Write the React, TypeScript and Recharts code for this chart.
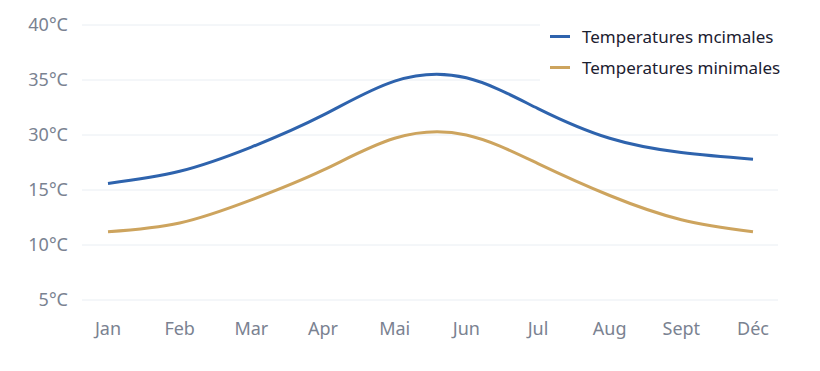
import { CartesianGrid, Legend, Line, LineChart, XAxis, YAxis } from "recharts"

const months = ["Jan", "Feb", "Mar", "Apr", "Mai", "Jun", "Jul", "Aug", "Sept", "Déc"]
const maxTemps = [15.6, 16.7, 18.9, 21.8, 24.9, 25.2, 22.4, 19.7, 18.4, 17.8]
const minTemps = [11.2, 12.0, 14.1, 16.8, 19.7, 20.0, 17.4, 14.5, 12.3, 11.2]

// the source axis labels are not linear, so each gridline gets its own label
const yTicks = [5, 10, 15, 20, 25, 30]
const yTickLabels = ["5°C", "10°C", "15°C", "30°C", "35°C", "40°C"]

const seriesNames = ["Temperatures mcimales", "Temperatures minimales"]
const seriesColors = ["#2e63ad", "#cda45e"]

const chartData = months.map((month, i) => ({
    month,
    max: maxTemps[i],
    min: minTemps[i],
}))

const font = "'Noto Sans', 'Open Sans', sans-serif"

function LegendBox() {
    return (
        <div
            style={{
                background: "#fff",
                width: 250,
                height: 78,
                paddingTop: 11,
                paddingLeft: 10,
                boxSizing: "border-box",
                fontFamily: font,
            }}
        >
            {seriesNames.map((name, i) => (
                <div
                    key={name}
                    style={{ display: "flex", alignItems: "center", height: 31 }}
                >
                    <span
                        style={{
                            display: "inline-block",
                            width: 20,
                            height: 3,
                            background: seriesColors[i],
                            marginRight: 12,
                        }}
                    />
                    <span style={{ fontSize: 17, color: "#1b2030" }}>{name}</span>
                </div>
            ))}
        </div>
    )
}

export default function App() {
    return (
        <div style={{ position: "absolute", left: 0, top: 0, background: "#fff" }}>
            <LineChart
                width={820}
                height={371}
                data={chartData}
                margin={{ top: 25, right: 42, bottom: 21, left: 0 }}
            >
                <CartesianGrid vertical={false} stroke="#e9eef3" strokeWidth={1} />
                <XAxis
                    dataKey="month"
                    axisLine={false}
                    tickLine={false}
                    tickSize={0}
                    tickMargin={22}
                    height={50}
                    padding={{ left: 26, right: 25 }}
                    interval={0}
                    tick={{ fill: "#7a8291", fontSize: 18, fontFamily: font }}
                />
                <YAxis
                    type="number"
                    domain={[5, 30]}
                    ticks={yTicks}
                    width={82}
                    axisLine={false}
                    tickLine={false}
                    tickSize={0}
                    tickMargin={14}
                    tickFormatter={(v) => yTickLabels[yTicks.indexOf(v)]}
                    tick={{ fill: "#7a8291", fontSize: 18, fontFamily: font }}
                />
                <Legend
                    verticalAlign="middle"
                    align="center"
                    content={() => <LegendBox />}
                    wrapperStyle={{ left: 540, top: 10, width: 250 }}
                />
                <Line
                    type="natural"
                    dataKey="max"
                    name={seriesNames[0]}
                    stroke={seriesColors[0]}
                    strokeWidth={3}
                    dot={false}
                    activeDot={false}
                    isAnimationActive={false}
                />
                <Line
                    type="natural"
                    dataKey="min"
                    name={seriesNames[1]}
                    stroke={seriesColors[1]}
                    strokeWidth={3}
                    dot={false}
                    activeDot={false}
                    isAnimationActive={false}
                />
            </LineChart>
        </div>
    )
}
